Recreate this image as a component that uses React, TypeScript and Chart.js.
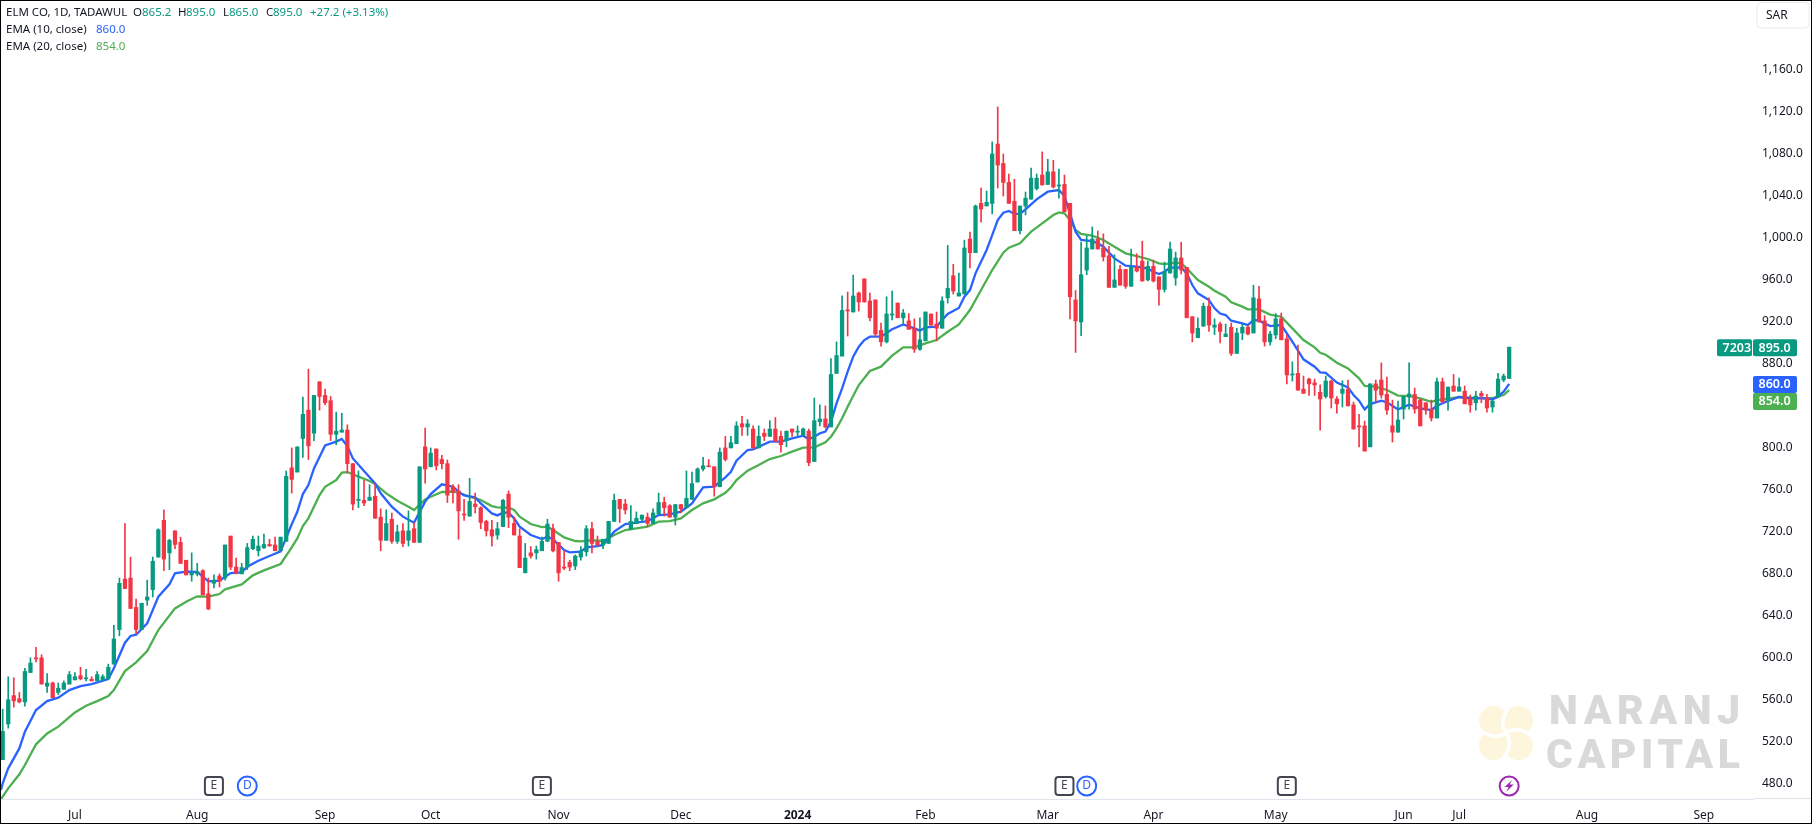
import { useEffect, useRef } from "react";
import { Chart, registerables } from "chart.js";

Chart.register(...registerables);

const opens = [
  502, 536, 563, 560, 557, 585, 599, 599, 572, 575,
  566, 569, 574, 578, 582, 579, 578.5, 577, 578, 579,
  593, 626, 674, 675, 647, 626, 654, 664, 695, 730,
  699, 720, 709, 692, 678, 679, 682, 660, 670, 677,
  675, 715, 685.5, 679, 685.5, 703, 701, 704, 707, 706.5,
  701, 710, 780, 776, 808, 835, 813, 862, 849, 844,
  812, 814, 816, 784, 749, 749, 749, 753, 733, 711,
  731, 710, 720, 711, 722, 709, 800, 781, 798, 788,
  784, 762, 758, 736, 734, 745.5, 742, 729, 721, 716,
  724, 755, 727, 715, 680, 699, 699, 701, 710, 722,
  709, 685.5, 690, 686.5, 695, 700, 722, 710, 706.5, 708,
  729, 750, 745.5, 722, 727, 731, 733, 727, 736, 747,
  744, 733, 745, 742, 750, 766.5, 779, 782, 781, 762,
  799, 799, 803, 822, 819, 817, 799, 813, 810, 817,
  810, 806, 817, 814, 811, 815, 786, 824, 826.5, 819,
  870, 886.5, 930.5, 928.5, 946.6, 960, 939, 940, 911, 900,
  925.6, 937, 923, 920, 913, 893, 901, 926.6, 917, 913,
  942, 963, 943.7, 945.6, 998, 985, 1032, 1029.5, 1032, 1088.5,
  1070, 1052, 1034, 1006, 1029.5, 1036, 1046, 1059, 1050, 1062,
  1048.5, 1050, 1032, 940, 919, 968.5, 988.5, 998, 989.5, 982,
  952, 969, 969, 953, 971, 977, 959, 972, 962, 950,
  965.6, 961, 980, 971, 924, 904, 915, 934, 914, 917,
  905, 914, 889, 908.5, 914, 908.5, 941, 920, 900, 906.6,
  922, 903, 868.5, 870, 855, 864.6, 861, 852, 848, 862.7,
  845.6, 851, 855, 840, 820, 820, 800, 860, 863.7, 850,
  820, 814, 836, 847.5, 850, 844.6, 842, 836, 827.5, 862,
  844.6, 858, 853, 853, 845.6, 842, 851, 846.5, 838, 847.5,
  863.7, 865.2,
];
const highs = [
  550, 581, 580, 566, 589, 599, 609, 602, 584, 576,
  575, 577, 586, 585, 590, 588, 581, 586, 583, 593,
  630, 675, 727, 695, 655, 651, 673, 695, 722, 740,
  712, 720, 714, 692, 699, 689, 683, 675, 678, 679,
  706.5, 715, 694, 689, 708, 715, 715, 717, 712, 714,
  714, 777, 799, 800, 847.5, 874, 849, 862, 855, 848,
  833, 832, 821, 784, 777, 768, 764, 765, 741, 740,
  737, 725.5, 727, 739, 728, 781, 818, 799, 798, 792,
  787.5, 764, 764, 750, 770, 756, 743, 730, 730, 728,
  750, 758, 733, 722, 708, 705, 705.5, 714, 731, 726.5,
  709, 701, 692, 697, 705, 725, 728, 715, 712, 729,
  755, 750, 750, 744, 738, 735, 737, 741, 756, 752,
  745, 745, 745, 777, 776, 780, 790, 788, 781, 799,
  810, 810, 824, 829, 826, 820, 820, 817, 825, 828,
  815, 815, 817, 820, 818, 817, 846.5, 840, 839, 884,
  900, 944, 947.5, 963.7, 947.5, 960, 946.6, 940, 918, 943,
  948.5, 937, 931, 927, 922, 923, 928.5, 926.6, 928.5, 943,
  992, 974, 965.6, 997, 1004.7, 1030.4, 1046.6, 1043.8, 1090.5, 1123.8,
  1079, 1060, 1055, 1029.5, 1042.8, 1065.7, 1060, 1081, 1074, 1073,
  1064.7, 1059, 1032, 949, 995, 1001, 1009.5, 1005.7, 1003, 991,
  983, 973, 969, 988.5, 984, 996, 977, 978, 962, 976,
  995, 985.6, 995, 971, 924, 923, 937, 942, 922, 919,
  917, 918, 913, 917, 916, 954, 953, 925, 910, 927,
  927.5, 906.6, 881, 897, 867.5, 865.6, 864.6, 859, 867.5, 863.7,
  848, 863, 863.7, 842.7, 831, 824.6, 860, 863.7, 880, 866.5,
  844.6, 843.7, 848, 880, 856, 845.6, 842, 844.6, 865.6, 865.6,
  857, 869, 865.6, 858, 849.4, 853, 853, 850, 844.6, 870,
  869.4, 895,
];
const lows = [
  502, 532, 552, 556, 553, 585, 595, 574, 566, 561,
  564, 569, 574, 578, 578, 577, 577, 577, 577, 579,
  593, 620, 665, 646, 622, 626, 649, 657, 695, 682,
  683, 703, 689, 678, 672, 677, 659, 645, 665.5, 666.5,
  673, 683, 679, 679, 683, 702, 696, 703, 705.5, 701,
  701, 710, 756, 776, 790, 788, 806, 835, 840, 806,
  802, 814, 775, 740, 742, 744, 749, 732, 701, 711,
  708, 708, 705, 705.5, 709, 709, 765.5, 781, 778, 779,
  747, 746.5, 712, 730, 734, 737, 722, 715, 705.5, 712,
  724, 723, 716, 685, 680, 694, 693, 701, 710, 700,
  672, 683, 682, 683, 692, 696, 699, 705.5, 703, 708,
  729, 728, 736, 721, 727, 728, 724, 727, 736, 734,
  733, 725.5, 737, 742, 750, 766.5, 777, 781, 753, 762,
  786.5, 799, 803, 811, 811, 798, 799, 806, 810, 805,
  795, 800, 810, 810, 811, 782, 786, 820, 818, 819,
  870, 886.5, 905.6, 928.5, 929.4, 938, 920, 905.6, 896, 899,
  921, 923, 917, 912, 890, 892, 901, 916, 901, 913,
  937, 945.6, 943.7, 945.6, 970.4, 985, 1014, 1029.5, 1022, 1046.6,
  1039, 1032, 1006, 1003, 1021, 1036, 1044.7, 1049.5, 1050, 1046.6,
  1037, 1024, 922, 890, 906, 964, 988.5, 988.5, 977, 952,
  952, 954, 951, 953, 966.6, 958, 958, 957, 935, 947.5,
  965.6, 954, 964.7, 923, 900, 904, 915, 910, 907, 899,
  905, 887, 889, 902, 906.6, 908.5, 919, 896, 897, 903,
  902, 860, 862.7, 854, 851, 849, 849, 816, 846.5, 837,
  832, 838, 839, 817, 800, 796, 800, 842.7, 846.5, 831,
  804.6, 814, 826.5, 836, 832, 820, 831, 824.6, 827.5, 842.7,
  835, 853, 853, 841, 833, 835, 842, 833, 833, 847.5,
  862, 865,
];
const closes = [
  529, 559, 558, 557, 586, 594, 598, 574, 575, 561,
  570, 575, 583, 581, 579, 580, 577, 583, 581, 590,
  617, 670, 665, 646, 626, 651, 657, 691, 721, 693,
  711, 707, 689, 678, 680, 681, 659, 645.5, 673, 672,
  706.5, 685.5, 680, 685, 704, 712, 705.5, 707, 705.5, 701,
  714, 772, 769, 800, 831, 801, 849, 848, 842, 812,
  815, 816, 784, 745.5, 750, 746.5, 752, 732, 711, 727,
  710, 719, 708, 720, 709, 781, 779, 794, 782, 784,
  754, 757, 739, 735, 748, 743, 728, 720, 715, 722,
  749, 733, 716, 685, 694, 696, 702, 710, 726.5, 701,
  680, 684.5, 685.5, 696, 701, 722, 708, 706.5, 712, 729,
  749, 741, 740, 729, 732, 735, 727, 737, 747, 742,
  733, 745, 741, 751, 765, 779, 782, 781, 762, 795,
  788, 804, 820, 819, 822, 799, 810, 810, 817, 805,
  802, 815, 814, 815, 817, 785, 825, 826.5, 819, 869,
  887, 930, 929.5, 943.7, 938, 938, 923, 907.5, 900, 926.6,
  926.6, 923, 927.5, 912, 893, 902, 928.5, 916, 913, 939,
  951, 948.5, 946.6, 989.5, 985, 1029.5, 1026.6, 1033, 1079, 1068.5,
  1052, 1032, 1006, 1029.5, 1037, 1056, 1056, 1049.5, 1062, 1047.6,
  1049.5, 1024, 943, 920, 964, 989.5, 998, 988.5, 981, 952,
  959, 954, 953, 971, 967.5, 958, 972, 958, 950, 967,
  988.5, 980, 968.5, 923, 908.5, 913, 934, 916, 916, 910,
  907.5, 889, 908.5, 914, 907.5, 942, 919, 900, 907.5, 922,
  902, 868.5, 869.4, 854, 851, 860, 859, 845.6, 862.7, 846.5,
  841, 855, 839, 817, 819, 796, 860, 854, 849.4, 835,
  814, 825.6, 848, 850.4, 836, 820, 835, 827.5, 862, 842.7,
  857, 853, 857, 841, 840, 848.4, 848.4, 837, 843.7, 864.6,
  867.5, 895,
];

const ema10Bars = [
  -0.3, 0, 1, 3, 4, 6, 8, 10, 12, 14, 16, 19, 20, 22, 23, 24, 26, 28, 30, 31,
  33, 35, 37, 39, 41, 43, 44, 46, 48, 50, 52, 53, 54, 55, 56, 58, 60, 61, 62, 63,
  65, 67, 68, 70, 72, 74, 76, 77, 79, 81, 82, 83, 85, 86, 88, 89, 90, 91, 92, 93,
  95, 97, 98, 99, 101, 102, 104, 105, 107, 108, 110, 112, 114, 116, 118, 120, 122, 124, 126, 128,
  130, 131, 132, 134, 135, 138, 140, 142, 144, 145, 146, 147, 148, 149, 150, 151, 152, 153, 154, 155,
  156, 157, 158, 160, 162, 164, 165, 166, 168, 169, 170, 172, 173, 174, 175, 177, 178, 179, 180, 181,
  182, 183, 184, 186, 188, 190, 191, 192, 193, 194, 196, 197, 198, 200, 202, 204, 206, 207, 208, 209,
  210, 212, 213, 214, 215, 217, 218, 219, 220, 221, 223, 224, 225, 226, 228, 230, 232, 234, 236, 237,
  238, 240, 242, 243, 244, 245, 246, 248, 249, 251, 253, 255, 257, 258, 260, 262, 264, 266, 268, 269,
  270, 271,
];
const ema10 = [
  473, 479.4, 493.7, 512.7, 528.6, 549.3, 557.8, 561, 568.3, 572.1, 574, 578.8, 589, 613.4, 619.8, 621, 631.8, 657.2, 669, 679.5,
  681.1, 680.8, 671.9, 672.5, 679.8, 680.4, 685.8, 691.5, 696, 700.4, 726.2, 738.2, 755, 763.6, 779.5, 801.4, 805, 807.5, 800.8, 789,
  777, 765.2, 755.7, 743, 733.5, 727.8, 747.8, 755, 764.3, 762, 757.3, 753.8, 751.9, 746.2, 736.6, 734.7, 737.3, 737.3, 731.9, 724,
  716, 712.2, 714.4, 711.9, 701.7, 699.5, 700.1, 704.2, 705.5, 706.5, 719.2, 726.5, 727.8, 729.3, 735, 735.7, 738.2, 746.2, 761.4, 762,
  771, 776.3, 786.8, 797, 797.6, 805, 805, 808.1, 810.6, 807.2, 809.7, 812.9, 814.5, 824, 841.5, 855.7, 871.6, 885.9, 895.4, 901.8,
  905, 905, 905, 912, 916.7, 912.9, 910.7, 913.9, 914.5, 920.9, 926.6, 932.3, 943.1, 949.4, 965.3, 987.6, 1001.8, 1016.1, 1023.1, 1024.7,
  1021.9, 1021.9, 1026.3, 1035.8, 1043.1, 1044.7, 1039, 1022.5, 1005, 997.1, 996.1, 993.9, 990.7, 979.6, 972.6, 971.7, 969.8, 966.9, 964.7, 966.9,
  970.7, 971, 965.3, 954.2, 946.3, 939.9, 932, 927, 925.6, 920.2, 917.7, 916, 920.9, 920.2, 915.1, 916.1, 900.2, 883.4, 876.4, 871,
  870.4, 861.2, 856.7, 849.4, 844, 835.7, 840.8, 844, 842.4, 835.7, 840.2, 836.7, 835.1, 839.2, 843.7, 847.5, 846.2, 846.5, 845.3, 847.8,
  852.6, 860,
];
const ema20Bars = [
  -0.3, 0, 1, 3, 4, 6, 8, 10, 13, 15, 17, 19, 20, 22, 24, 26, 28, 31, 33, 35,
  37, 39, 40, 43, 45, 47, 50, 52, 53, 54, 55, 57, 58, 60, 61, 62, 64, 66, 67, 69,
  71, 73, 74, 76, 77, 79, 81, 82, 84, 86, 88, 89, 91, 92, 93, 95, 97, 98, 99, 101,
  103, 104, 106, 108, 110, 112, 114, 116, 118, 120, 122, 124, 126, 128, 130, 131, 132, 134, 136, 138,
  140, 142, 144, 146, 148, 149, 150, 151, 152, 154, 156, 158, 160, 162, 164, 166, 168, 170, 172, 174,
  176, 178, 180, 181, 183, 185, 187, 189, 190, 191, 192, 193, 194, 196, 198, 200, 202, 204, 206, 208,
  209, 211, 212, 213, 215, 217, 218, 220, 221, 223, 224, 226, 228, 230, 232, 234, 236, 237, 238, 240,
  242, 244, 245, 247, 249, 251, 253, 255, 257, 258, 260, 262, 264, 266, 268, 270, 271,
];
const ema20 = [
  464.2, 466.7, 474.6, 488, 496.9, 516.6, 527, 533.4, 547, 553.4, 557.8, 562.6, 568.3, 586.4, 594.7, 605.5, 625.5, 646.1, 652.5, 657.6,
  657.3, 659.8, 664.2, 669, 677.6, 682.3, 688.4, 704.3, 712.8, 724.6, 731.9, 754.1, 762, 768.4, 775.4, 776, 771.6, 767.5, 764.6, 755.7,
  748.7, 743, 739.8, 750, 752.5, 757, 757.3, 756.3, 752.5, 749.4, 743.6, 742.4, 742, 739.8, 733.5, 726.5, 723.6, 724, 720.8, 713.8,
  710.3, 710, 711, 710.3, 716, 720.8, 722.4, 724, 728.7, 729.3, 731.9, 739.8, 746.2, 750, 756.3, 761.4, 768.4, 777.3, 782.7, 788.4,
  791.3, 795.4, 799.2, 799.5, 804.3, 809.7, 817.6, 827.2, 838.3, 858.9, 872.3, 876.4, 886.9, 894.8, 894.8, 898.6, 901.8, 909.7, 916.7, 930.4,
  949.4, 968.5, 985, 989.8, 993.9, 1005, 1013, 1020.9, 1023.4, 1022.5, 1016.1, 1006.6, 1002.8, 1001.2, 997.1, 990.7, 984.4, 981.8, 979, 974.8,
  974.2, 975.5, 974.8, 970.1, 959, 952.6, 948.8, 943.1, 937.7, 933.6, 931, 931, 926, 924, 912.9, 901.8, 894.8, 889.7, 887.8, 880.2,
  874.8, 865.3, 858, 857.3, 854.2, 848.8, 848.5, 846.2, 843, 844.6, 845.6, 847.5, 846.9, 846.5, 846.5, 849.4, 854,
];

const monthBars = [13, 35, 58, 77, 100, 122, 143, 166, 188, 207, 229, 252, 262, 285, 306];
const monthLabels = ["Jul", "Aug", "Sep", "Oct", "Nov", "Dec", "2024", "Feb", "Mar", "Apr", "May", "Jun", "Jul", "Aug", "Sep"];
const priceTicks = [480, 520, 560, 600, 640, 680, 720, 760, 800, 840, 880, 920, 960, 1000, 1040, 1080, 1120, 1160];

const earningsBars = [38, 97, 191, 231];
const dividendBars = [44, 195];
const splitBars = [271];

const UP = "#089981";
const DOWN = "#F23645";
const BLUE = "#2962FF";
const GREEN = "#4CAF50";
const TEXT = "#131722";
const FONT = '"Noto Sans", sans-serif';

const barColors = closes.map((c, i) => (c >= opens[i] ? UP : DOWN));

const roundBox = (ctx: CanvasRenderingContext2D, x: number, y: number, w: number, h: number, r: number) => {
  ctx.beginPath();
  ctx.roundRect(x, y, w, h, r);
};

const drawLegend = (ctx: CanvasRenderingContext2D) => {
  ctx.font = `11.5px ${FONT}`;
  ctx.textAlign = "left";
  ctx.textBaseline = "middle";
  const put = (text: string, x: number, y: number, color: string) => {
    ctx.fillStyle = color;
    ctx.fillText(text, x, y);
  };
  put("ELM CO, 1D, TADAWUL", 6, 13, TEXT);
  put("O", 133, 13, TEXT);
  put("865.2", 142, 13, UP);
  put("H", 178, 13, TEXT);
  put("895.0", 186, 13, UP);
  put("L", 223, 13, TEXT);
  put("865.0", 229, 13, UP);
  put("C", 266, 13, TEXT);
  put("895.0", 273, 13, UP);
  put("+27.2 (+3.13%)", 310, 13, UP);
  put("EMA (10, close)", 6, 30, TEXT);
  put("860.0", 96, 30, BLUE);
  put("EMA (20, close)", 6, 47, TEXT);
  put("854.0", 96, 47, GREEN);
};

const drawWatermark = (ctx: CanvasRenderingContext2D) => {
  ctx.save();
  ctx.fillStyle = "#FDF5DC";
  const cx = 1506;
  const cy = 733;
  for (const [dx, dy] of [[-12.5, -12.5], [12.5, -12.5], [12.5, 12.5], [-12.5, 12.5]]) {
    ctx.beginPath();
    ctx.arc(cx + dx, cy + dy, 14.5, 0, Math.PI * 2);
    ctx.fill();
  }
  ctx.fillRect(cx - 13, cy - 13, 26, 26);
  ctx.strokeStyle = "#ffffff";
  ctx.lineWidth = 3.5;
  for (const [ex, ey, qx, qy] of [[6, -29, -9, -13], [29, 6, 13, -9], [-6, 29, 9, 13], [-29, -6, -13, 9]]) {
    ctx.beginPath();
    ctx.moveTo(cx, cy);
    ctx.quadraticCurveTo(cx + qx, cy + qy, cx + ex, cy + ey);
    ctx.stroke();
  }
  ctx.fillStyle = "#D9D9D9";
  ctx.font = `900 41px Roboto, ${FONT}`;
  ctx.textAlign = "left";
  ctx.textBaseline = "alphabetic";
  (ctx as any).letterSpacing = "5.5px";
  ctx.fillText("NARANJ", 1549, 724);
  (ctx as any).letterSpacing = "4.5px";
  ctx.fillText("CAPITAL", 1546, 768);
  ctx.restore();
};

const drawMarkers = (chart: Chart, ctx: CanvasRenderingContext2D) => {
  const xs = chart.scales.x;
  const y = chart.chartArea.bottom - 13;
  ctx.font = `12px ${FONT}`;
  ctx.textAlign = "center";
  ctx.textBaseline = "middle";
  ctx.lineWidth = 2;
  earningsBars.forEach((bar) => {
    const x = xs.getPixelForValue(bar);
    ctx.fillStyle = "#ffffff";
    ctx.strokeStyle = "#434651";
    roundBox(ctx, x - 9, y - 9, 18, 18, 3);
    ctx.fill();
    ctx.stroke();
    ctx.fillStyle = "#434651";
    ctx.fillText("E", x, y);
  });
  dividendBars.forEach((bar) => {
    const x = xs.getPixelForValue(bar);
    ctx.fillStyle = "#ffffff";
    ctx.strokeStyle = BLUE;
    ctx.beginPath();
    ctx.arc(x, y, 9.5, 0, Math.PI * 2);
    ctx.fill();
    ctx.stroke();
    ctx.fillStyle = BLUE;
    ctx.fillText("D", x, y);
  });
  splitBars.forEach((bar) => {
    const x = xs.getPixelForValue(bar);
    ctx.fillStyle = "#ffffff";
    ctx.strokeStyle = "#9C27B0";
    ctx.beginPath();
    ctx.arc(x, y, 9.5, 0, Math.PI * 2);
    ctx.fill();
    ctx.stroke();
    ctx.fillStyle = "#9C27B0";
    ctx.beginPath();
    ctx.moveTo(x + 3, y - 6);
    ctx.lineTo(x - 4.5, y + 1);
    ctx.lineTo(x - 0.5, y + 1);
    ctx.lineTo(x - 3, y + 6);
    ctx.lineTo(x + 4.5, y - 1.5);
    ctx.lineTo(x + 0.5, y - 1.5);
    ctx.closePath();
    ctx.fill();
  });
};

const drawPriceTags = (chart: Chart, ctx: CanvasRenderingContext2D) => {
  const ys = chart.scales.y;
  const tag = (x: number, w: number, cy: number, color: string, text: string) => {
    ctx.fillStyle = color;
    roundBox(ctx, x, cy - 8.5, w, 17, 2);
    ctx.fill();
    ctx.fillStyle = "#ffffff";
    ctx.fillText(text, x + 5.5, cy + 0.5);
  };
  ctx.font = `600 12.5px ${FONT}`;
  ctx.textAlign = "left";
  ctx.textBaseline = "middle";
  const lastY = ys.getPixelForValue(closes[closes.length - 1]);
  tag(1717, 35, lastY + 0.5, UP, "7203");
  tag(1753, 44, lastY + 0.5, UP, "895.0");
  const ema10Y = ys.getPixelForValue(ema10[ema10.length - 1]);
  tag(1753, 44, ema10Y + 0.5, BLUE, "860.0");
  tag(1753, 44, ema10Y + 17.5, GREEN, "854.0");
};

const overlay = {
  id: "overlay",
  beforeDatasetsDraw(chart: Chart) {
    drawWatermark(chart.ctx);
  },
  afterDraw(chart: Chart) {
    const { ctx, chartArea } = chart;
    ctx.save();
    // axis line continues under the price scale
    ctx.fillStyle = "#E0E3EB";
    ctx.fillRect(chartArea.right + 1, chartArea.bottom - 1, chart.width - chartArea.right - 2, 1);
    drawLegend(ctx);
    drawMarkers(chart, ctx);
    drawPriceTags(chart, ctx);
    // currency button
    ctx.fillStyle = "#ffffff";
    ctx.strokeStyle = "#E8EAF0";
    ctx.lineWidth = 1;
    roundBox(ctx, 1757, 2.5, 52, 25.5, 4);
    ctx.fill();
    ctx.stroke();
    ctx.fillStyle = TEXT;
    ctx.font = `12px ${FONT}`;
    ctx.textAlign = "left";
    ctx.textBaseline = "middle";
    ctx.fillText("SAR", 1766, 16);
    ctx.strokeStyle = "#000000";
    ctx.strokeRect(0.5, 0.5, chart.width - 1, chart.height - 1);
    ctx.restore();
  },
};

const App = () => {
  const chartRef = useRef<HTMLCanvasElement>(null);

  useEffect(() => {
    if (!chartRef.current) return;

    const chart = new Chart(chartRef.current, {
      type: "bar",
      data: {
        datasets: [
          {
            label: "Body",
            data: opens.map((o, i) => ({ x: i, y: [o, closes[i]] })),
            backgroundColor: barColors,
            barThickness: 3.6,
            minBarLength: 1,
            grouped: false,
            order: 0,
          },
          {
            label: "Wick",
            data: lows.map((l, i) => ({ x: i, y: [l, highs[i]] })),
            backgroundColor: barColors,
            barThickness: 1,
            grouped: false,
            order: 1,
          },
          {
            type: "line",
            label: "EMA (10, close)",
            data: ema10.map((y, i) => ({ x: ema10Bars[i], y })),
            borderColor: BLUE,
            borderWidth: 2.3,
            pointRadius: 0,
            order: 2,
          },
          {
            type: "line",
            label: "EMA (20, close)",
            data: ema20.map((y, i) => ({ x: ema20Bars[i], y })),
            borderColor: GREEN,
            borderWidth: 2.3,
            pointRadius: 0,
            order: 3,
          },
        ] as any,
      },
      options: {
        animation: false,
        responsive: false,
        maintainAspectRatio: false,
        devicePixelRatio: 1,
        layout: { padding: { left: 1, top: 1, right: 0, bottom: 0 } },
        plugins: {
          legend: { display: false },
          tooltip: { enabled: false },
        },
        scales: {
          x: {
            type: "linear",
            offset: false,
            min: -0.3,
            max: 314.86,
            grid: { display: false },
            border: { color: "#E0E3EB" },
            afterBuildTicks: (s: any) => {
              s.ticks = monthBars.map((value) => ({ value }));
            },
            afterFit: (s: any) => {
              s.height = 25;
              s.paddingLeft = 0;
              s.paddingRight = 0;
            },
            ticks: {
              autoSkip: false,
              maxRotation: 0,
              minRotation: 0,
              padding: 1,
              color: TEXT,
              font: (c: any) => ({
                family: FONT,
                size: 12,
                weight: monthLabels[monthBars.indexOf(c.tick?.value)] === "2024" ? "bold" : "normal",
              }),
              callback: (v: any) => monthLabels[monthBars.indexOf(v)],
            },
          },
          y: {
            position: "right",
            min: 464.5,
            max: 1224.8,
            grid: { display: false, drawTicks: false },
            border: { display: false },
            afterBuildTicks: (s: any) => {
              s.ticks = priceTicks.map((value) => ({ value }));
            },
            afterFit: (s: any) => {
              s.width = 59;
              s.paddingTop = 0;
              s.paddingBottom = 0;
            },
            ticks: {
              padding: 9,
              labelOffset: 1,
              color: TEXT,
              font: { family: FONT, size: 12 },
              callback: (v: any) =>
                Number(v).toLocaleString("en-US", { minimumFractionDigits: 1, maximumFractionDigits: 1 }),
            },
          },
        },
      } as any,
      plugins: [overlay],
    });

    return () => {
      chart.destroy();
    };
  }, []);

  return (
    <div style={{ position: "fixed", left: 0, top: 0, width: 1812, height: 824 }}>
      <canvas ref={chartRef} width={1812} height={824} style={{ display: "block" }} />
    </div>
  );
};

export default App;
